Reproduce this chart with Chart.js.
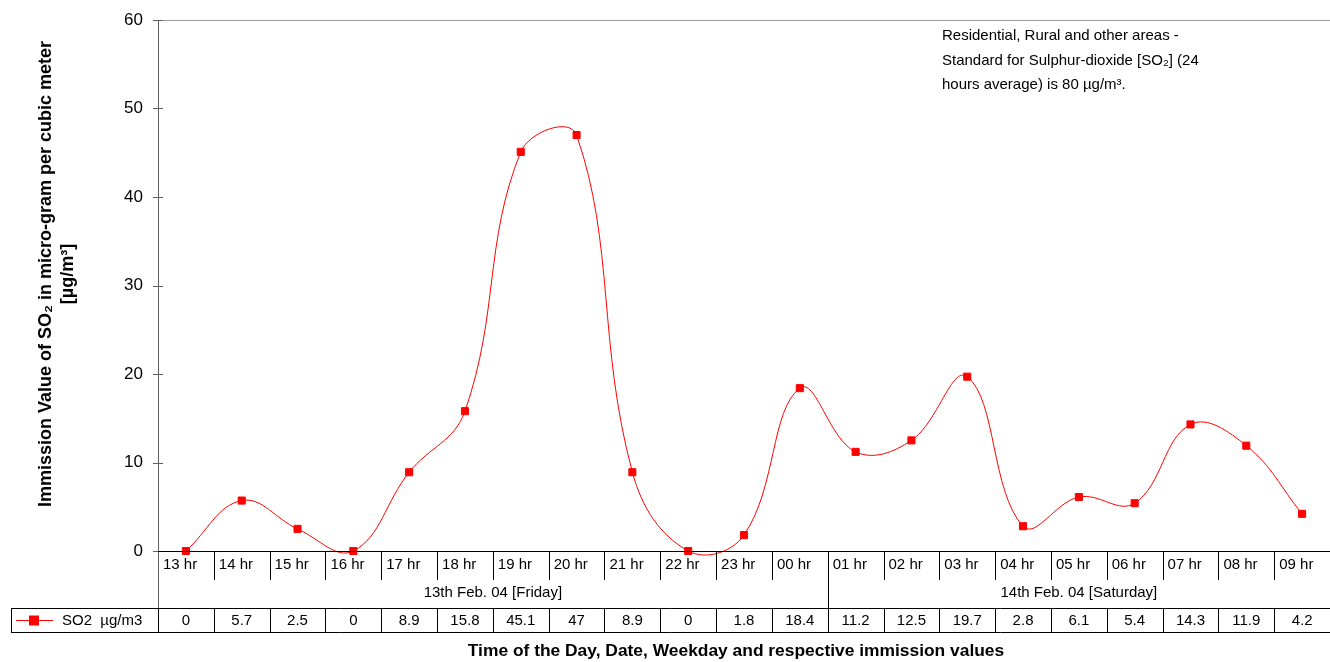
<!DOCTYPE html>
<html>
<head>
<meta charset="utf-8">
<script src="https://cdn.jsdelivr.net/npm/chart.js@4"></script>
<style>
  body { margin: 0; background: #fff; }
  #wrap { width: 1330px; height: 662px; }
</style>
</head>
<body>
<div id="wrap"><canvas id="so2Chart" width="1330" height="662"></canvas></div>
<script>
// data
const hours = ['13 hr', '14 hr', '15 hr', '16 hr', '17 hr', '18 hr', '19 hr', '20 hr', '21 hr', '22 hr', '23 hr', '00 hr',
  '01 hr', '02 hr', '03 hr', '04 hr', '05 hr', '06 hr', '07 hr', '08 hr', '09 hr'];
const so2Values = [0, 5.7, 2.5, 0, 8.9, 15.8, 45.1, 47, 8.9, 0, 1.8, 18.4, 11.2, 12.5, 19.7, 2.8, 6.1, 5.4, 14.3, 11.9, 4.2];
const dayGroups = ['13th Feb. 04 [Friday]', '14th Feb. 04 [Saturday]'];
const dayCounts = [12, 9];
const yTicks = [0, 10, 20, 30, 40, 50, 60];
const noteLines = ['Residential, Rural and other areas -', 'Standard for Sulphur-dioxide [SO\u2082] (24', 'hours average) is 80 \u00b5g/m\u00b3.'];

const FONT = '"Liberation Sans", Arial, sans-serif';

// draws the data table, category rows, titles and note
const tablePlugin = {
  id: 'tablePlugin',
  afterDraw(chart) {
    const ctx = chart.ctx;
    const area = chart.chartArea;
    const x = chart.scales.x;
    const y = chart.scales.y;
    const half = (area.right - area.left) / hours.length / 2;
    const rowTop = area.bottom;
    const dataTop = 608, dataBottom = 632;
    const axisX = area.left + 0.5;

    ctx.save();
    ctx.lineWidth = 1;
    // top frame line
    ctx.strokeStyle = '#a0a0a0';
    ctx.beginPath();
    ctx.moveTo(area.left, area.top + 0.5);
    ctx.lineTo(area.right, area.top + 0.5);
    ctx.stroke();
    // left axis, continues down to the table
    ctx.strokeStyle = '#606060';
    ctx.beginPath();
    ctx.moveTo(axisX, area.top);
    ctx.lineTo(axisX, dataTop);
    ctx.stroke();
    // y tick marks crossing the axis
    yTicks.forEach(v => {
      const py = Math.round(y.getPixelForValue(v)) + 0.5;
      ctx.beginPath();
      ctx.moveTo(area.left - 5, py);
      ctx.lineTo(area.left + 5, py);
      ctx.stroke();
    });

    // x axis line
    ctx.strokeStyle = '#000';
    ctx.beginPath();
    ctx.moveTo(area.left, rowTop + 0.5);
    ctx.lineTo(area.right, rowTop + 0.5);
    ctx.stroke();

    // hour labels and separators
    ctx.font = '15px ' + FONT;
    ctx.fillStyle = '#000';
    ctx.textBaseline = 'middle';
    hours.forEach((h, i) => {
      const left = x.getPixelForValue(i) - half;
      ctx.textAlign = 'left';
      ctx.fillText(h, left + 5, rowTop + 14);
      if (i > 0) {
        let bottom = rowTop + 29;
        if (i === dayCounts[0]) bottom = dataTop;
        ctx.beginPath();
        ctx.moveTo(Math.round(left) + 0.5, rowTop);
        ctx.lineTo(Math.round(left) + 0.5, bottom);
        ctx.stroke();
      }
    });

    // day group labels
    let start = 0;
    ctx.textAlign = 'center';
    dayGroups.forEach((d, g) => {
      const l = x.getPixelForValue(start) - half;
      const r = x.getPixelForValue(start + dayCounts[g] - 1) + half;
      ctx.fillText(d, (l + r) / 2, rowTop + 42);
      start += dayCounts[g];
    });

    // data table
    const tableLeft = 11;
    ctx.beginPath();
    ctx.moveTo(tableLeft, dataTop + 0.5);
    ctx.lineTo(area.right, dataTop + 0.5);
    ctx.moveTo(tableLeft, dataBottom + 0.5);
    ctx.lineTo(area.right, dataBottom + 0.5);
    ctx.moveTo(tableLeft + 0.5, dataTop);
    ctx.lineTo(tableLeft + 0.5, dataBottom);
    ctx.stroke();
    so2Values.forEach((v, i) => {
      const c = x.getPixelForValue(i);
      const left = Math.round(c - half) + 0.5;
      ctx.beginPath();
      ctx.moveTo(left, dataTop);
      ctx.lineTo(left, dataBottom);
      ctx.stroke();
      ctx.fillText(String(v), c, (dataTop + dataBottom) / 2 + 1);
    });

    // legend key in the table
    const ky = (dataTop + dataBottom) / 2 + 0.5;
    ctx.strokeStyle = '#ff0000';
    ctx.beginPath();
    ctx.moveTo(16, ky);
    ctx.lineTo(53, ky);
    ctx.stroke();
    ctx.fillStyle = '#ff0000';
    ctx.fillRect(29, ky - 5, 10, 10);
    ctx.fillStyle = '#000';
    ctx.textAlign = 'left';
    ctx.fillText('SO2  \u00b5g/m3', 62, ky + 0.5);

    // axis titles
    ctx.font = 'bold 17.4px ' + FONT;
    ctx.textAlign = 'center';
    ctx.fillText('Time of the Day, Date, Weekday and respective immission values', 736, 651);
    ctx.save();
    ctx.translate(46, 274);
    ctx.rotate(-Math.PI / 2);
    ctx.font = 'bold 18px ' + FONT;
    ctx.fillText('Immission Value of SO\u2082 in micro-gram per cubic meter', 0, 0);
    ctx.fillText('[\u00b5g/m\u00b3]', 0, 22);
    ctx.restore();

    // standard note
    ctx.font = '15px ' + FONT;
    ctx.textAlign = 'left';
    noteLines.forEach((t, i) => ctx.fillText(t, 942, 36 + i * 24.5));
    ctx.restore();
  }
};

new Chart(document.getElementById('so2Chart'), {
  type: 'line',
  data: {
    labels: hours,
    datasets: [{
      label: 'SO2  \u00b5g/m3',
      data: so2Values,
      borderColor: '#ff0000',
      backgroundColor: '#ff0000',
      borderWidth: 1,
      pointStyle: 'rect',
      pointRadius: 5,
      pointHoverRadius: 5,
      tension: 0.4,
      clip: false
    }]
  },
  options: {
    responsive: false,
    animation: false,
    events: [],
    elements: { line: { capBezierPoints: false } },
    layout: { autoPadding: false, padding: { top: 20, right: 0, bottom: 111, left: 0 } },
    plugins: { legend: { display: false }, tooltip: { enabled: false } },
    scales: {
      x: { display: false, offset: true },
      y: {
        min: 0,
        max: 60,
        afterBuildTicks(scale) { scale.ticks = yTicks.map(v => ({ value: v })); },
        afterFit(scale) {
          scale.width = 158;
          scale.paddingTop = 0;
          scale.paddingBottom = 0;
        },
        ticks: { color: '#000', font: { family: FONT, size: 17 }, padding: 15 },
        grid: { display: false, drawTicks: false },
        border: { display: false }
      }
    }
  },
  plugins: [tablePlugin]
});
</script>
</body>
</html>
